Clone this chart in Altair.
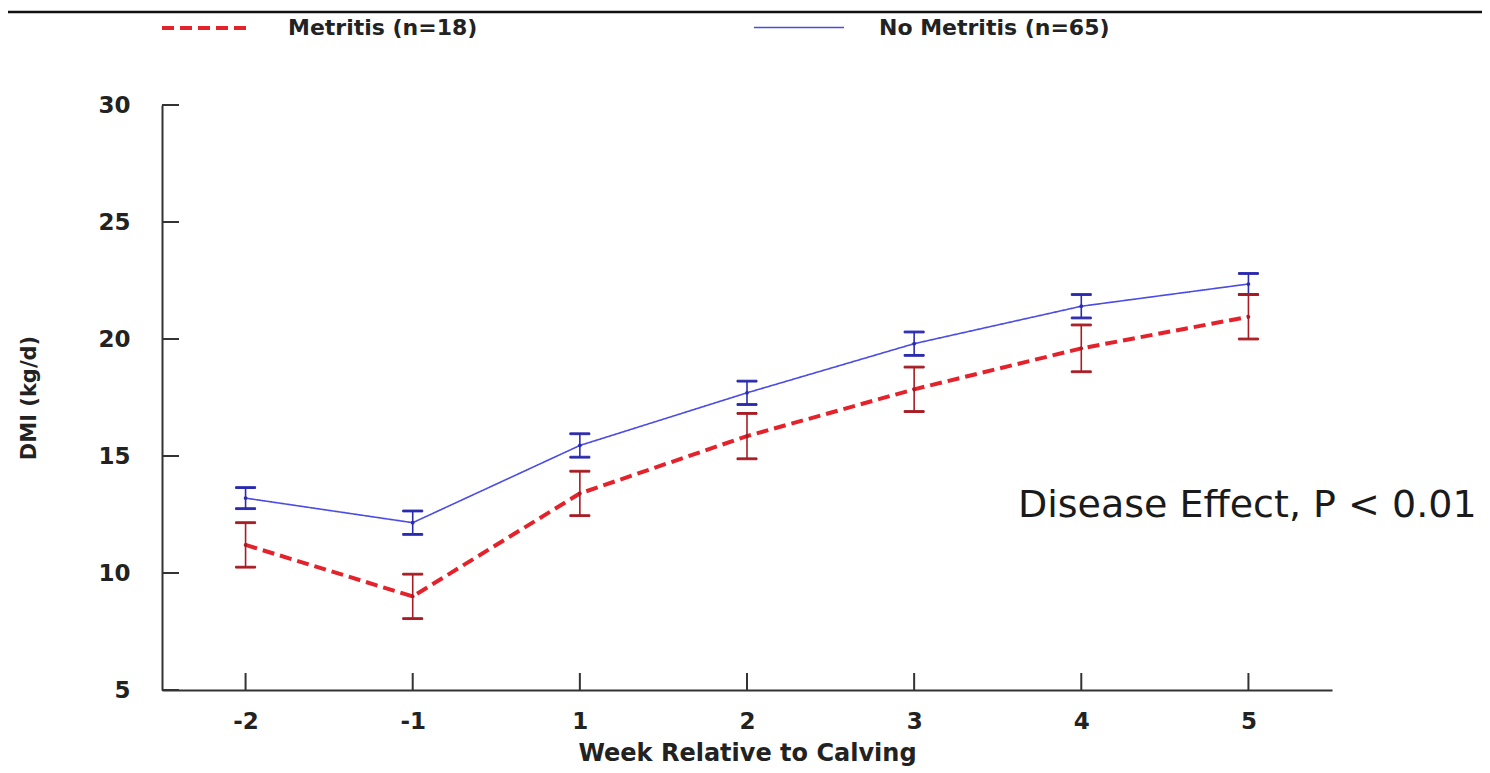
import altair as alt
import pandas as pd

# ---- data ----
weeks = ["-2", "-1", "1", "2", "3", "4", "5"]
groups = ["Metritis (n=18)", "No Metritis (n=65)"]
metritis_dmi = [11.2, 9.0, 13.4, 15.85, 17.85, 19.6, 20.95]
metritis_se = [0.95, 0.95, 0.95, 0.97, 0.95, 1.0, 0.95]
no_metritis_dmi = [13.2, 12.15, 15.45, 17.7, 19.8, 21.4, 22.35]
no_metritis_se = [0.45, 0.5, 0.5, 0.5, 0.5, 0.5, 0.45]
y_ticks = [5, 10, 15, 20, 25, 30]
annot_text = ["Disease Effect, P < 0.01"]
annot_y = [12.86]

line_colors = ["#e3222b", "#4b4be6"]
bar_colors = ["#a81c24", "#2b2bb0"]

rows = []
for g, means, ses in [(groups[0], metritis_dmi, metritis_se),
                      (groups[1], no_metritis_dmi, no_metritis_se)]:
    for w, m, s in zip(weeks, means, ses):
        rows.append({"week": w, "group": g, "mean": m, "low": m - s, "high": m + s})
df = pd.DataFrame(rows)

W, H = 1170, 585
FONT = "DejaVu Sans"

x_scale = alt.Scale(domain=weeks, type="point", padding=0.5)
y_scale = alt.Scale(domain=[5, 30], nice=False, zero=False)
x_axis = alt.Axis(title="Week Relative to Calving", values=weeks, ticks=False, tickSize=0,
                  labelPadding=20, titlePadding=8, labelAngle=0)
y_axis = alt.Axis(title="DMI (kg/d)", values=y_ticks, ticks=False, tickSize=0,
                  labelPadding=32, titlePadding=58)


def X(field):
    return alt.X(field, scale=x_scale, axis=x_axis)


def Y(field):
    return alt.Y(field, scale=y_scale, axis=y_axis)


base = alt.Chart(df)

legend = alt.Legend(
    title=None, orient="none", legendX=-2, legendY=-124, direction="horizontal",
    symbolType="stroke", symbolSize=8100, labelOffset=34, columnPadding=272,
    labelFont=FONT, labelFontSize=22, labelFontWeight="bold", labelColor="#222222",
    labelLimit=400, symbolStrokeWidth=3,
)

lines = base.mark_line().encode(
    x=X("week:O"),
    y=Y("mean:Q"),
    color=alt.Color("group:N", scale=alt.Scale(domain=groups, range=line_colors), legend=legend),
    strokeDash=alt.StrokeDash("group:N", scale=alt.Scale(domain=groups, range=[[12, 6], [1, 0]]),
                              legend=legend),
    strokeWidth=alt.StrokeWidth("group:N", scale=alt.Scale(domain=groups, range=[4, 1.6]),
                                legend=None),
)

bar_stroke = alt.Stroke("group:N", scale=alt.Scale(domain=groups, range=bar_colors), legend=None)
bar_fill = alt.Fill("group:N", scale=alt.Scale(domain=groups, range=bar_colors), legend=None)

err_rules = base.mark_rule(strokeWidth=1.6, opacity=1).encode(
    x=X("week:O"), y=Y("low:Q"), y2="high:Q", stroke=bar_stroke,
)
caps_low = base.mark_tick(size=20, thickness=1.8, opacity=1).encode(
    x=X("week:O"), y=Y("low:Q"), stroke=bar_stroke, fill=bar_fill,
)
caps_high = base.mark_tick(size=20, thickness=1.8, opacity=1).encode(
    x=X("week:O"), y=Y("high:Q"), stroke=bar_stroke, fill=bar_fill,
)
points = base.mark_point(filled=True, size=14, opacity=1).encode(
    x=X("week:O"), y=Y("mean:Q"), fill=bar_fill,
)

# inward axis ticks
ytick_df = pd.DataFrame({"t": y_ticks})
ytick_rules = alt.Chart(ytick_df).mark_rule(color="#333333", strokeWidth=2).encode(
    y=Y("t:Q"), x=alt.value(0), x2=alt.value(17)
)
xtick_df = pd.DataFrame({"week": weeks})
xtick_rules = alt.Chart(xtick_df).mark_rule(color="#333333", strokeWidth=2).encode(
    x=X("week:O"), y=alt.value(H), y2=alt.value(H - 17)
)

# top frame line
frame_df = pd.DataFrame({"k": [0]})
frame = alt.Chart(frame_df).mark_rule(color="#111111", strokeWidth=2.5).encode(
    x=alt.value(-154), x2=alt.value(W + 160), y=alt.value(-93)
)

annot_df = pd.DataFrame({"text": annot_text, "y": annot_y})
annot = alt.Chart(annot_df).mark_text(
    align="left", baseline="middle", font=FONT, fontSize=38, color="#1a1a1a"
).encode(x=alt.value(856), y=Y("y:Q"), text="text:N")

chart = alt.layer(
    frame, ytick_rules, xtick_rules, lines, err_rules, caps_low, caps_high, points, annot
).properties(
    width=W, height=H,
    padding={"left": 154, "top": 97, "right": 150, "bottom": 80},
    autosize=alt.AutoSizeParams(type="none"),
).configure_view(strokeWidth=0).configure_axis(
    domainColor="#333333", domainWidth=2, grid=False,
    labelFont=FONT, labelFontSize=23, labelFontWeight="bold", labelColor="#222222",
    titleFont=FONT, titleFontSize=21, titleFontWeight="bold", titleColor="#222222",
).configure_axisX(titleFontSize=24)

chart.save("out.html", embed_options={"renderer": "svg", "actions": False})
